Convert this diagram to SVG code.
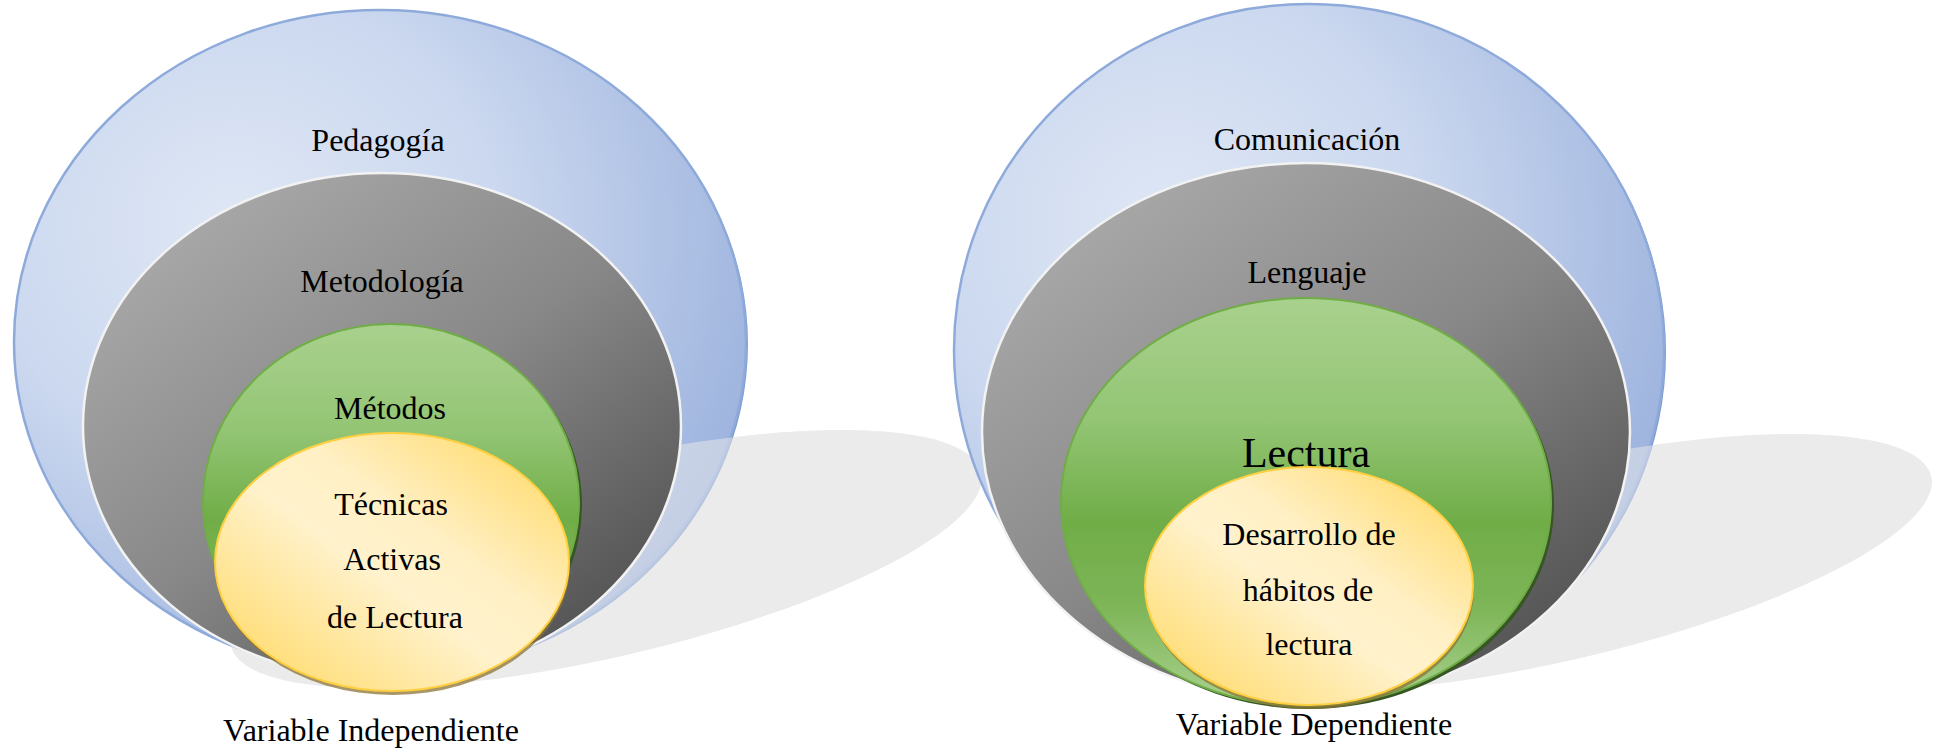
<svg xmlns="http://www.w3.org/2000/svg" width="1936" height="750" viewBox="0 0 1936 750">
<defs>
<radialGradient id="gBlue" cx="0.32" cy="0.34" r="0.78" fx="0.3" fy="0.32">
<stop offset="0" stop-color="#dfe7f5"/>
<stop offset="0.45" stop-color="#cbd8ef"/>
<stop offset="1" stop-color="#98afdc"/>
</radialGradient>
<linearGradient id="gGray" x1="0.15" y1="0.1" x2="0.85" y2="0.9">
<stop offset="0" stop-color="#a8a8a8"/>
<stop offset="0.5" stop-color="#888888"/>
<stop offset="1" stop-color="#545454"/>
</linearGradient>
<linearGradient id="gGreen" x1="0" y1="0" x2="0" y2="1">
<stop offset="0" stop-color="#a9d18e"/>
<stop offset="0.3" stop-color="#93c574"/>
<stop offset="0.55" stop-color="#70ad47"/>
<stop offset="0.75" stop-color="#7db557"/>
<stop offset="1" stop-color="#a9d18e"/>
</linearGradient>
<linearGradient id="gYellow" x1="0.05" y1="0.95" x2="0.95" y2="0.05">
<stop offset="0" stop-color="#ffd966"/>
<stop offset="0.45" stop-color="#fff2cc"/>
<stop offset="0.62" stop-color="#fff0c5"/>
<stop offset="1" stop-color="#ffd966"/>
</linearGradient>
<style>
.shadow{fill:#ebebeb}
.shadowOver{fill:#ebebeb;opacity:0.5}
.blue{fill:url(#gBlue);stroke:#8eaadb;stroke-width:2.5}
.blueEdge{fill:#7f9bd0}
.gray{fill:url(#gGray);stroke:#f2f2f2;stroke-width:2.5}
.green{fill:url(#gGreen);stroke:#70ad47;stroke-width:2}
.greenEdge{fill:#375623}
.yellow{fill:url(#gYellow);stroke:#ffcf3f;stroke-width:2}
.yellowEdge{fill:#8c7436;opacity:0.75}
text{font-family:"Liberation Serif","Times New Roman",serif;font-size:32px;fill:#000;text-anchor:middle}
.big{font-size:42px}
</style>
</defs>

<g id="connectors"></g>

<!-- Left diagram -->
<g id="shadow-left">
<ellipse class="shadow" cx="606" cy="559" rx="385" ry="98" transform="rotate(-13 606 559)"/>
</g>
<g id="node-pedagogia">
<ellipse class="blueEdge" cx="382" cy="344" rx="366" ry="332"/>
<ellipse class="blue" cx="380" cy="342" rx="366" ry="332"/>
<ellipse class="shadowOver" cx="606" cy="559" rx="385" ry="98" transform="rotate(-13 606 559)"/>
<text x="378" y="151">Pedagogía</text>
</g>
<g id="node-metodologia">
<ellipse class="gray" cx="382" cy="426" rx="299" ry="253"/>
<text x="382" y="292">Metodología</text>
</g>
<g id="node-metodos">
<ellipse class="greenEdge" cx="394" cy="505" rx="188" ry="178"/>
<ellipse class="green" cx="391" cy="502" rx="188" ry="178"/>
<text x="390" y="419">Métodos</text>
</g>
<g id="node-tecnicas">
<ellipse class="yellowEdge" cx="393" cy="566" rx="177" ry="129"/>
<ellipse class="yellow" cx="392" cy="562" rx="177" ry="129"/>
<text x="391" y="515">Técnicas</text>
<text x="392" y="570">Activas</text>
<text x="395" y="628">de Lectura</text>
</g>
<g id="label-left">
<text x="371" y="741">Variable Independiente</text>
</g>

<!-- Right diagram -->
<g id="shadow-right">
<ellipse class="shadow" cx="1556" cy="563" rx="385" ry="98" transform="rotate(-13 1556 563)"/>
</g>
<g id="node-comunicacion">
<ellipse class="blueEdge" cx="1311" cy="352" rx="355" ry="346"/>
<ellipse class="blue" cx="1309" cy="350" rx="355" ry="346"/>
<ellipse class="shadowOver" cx="1556" cy="563" rx="385" ry="98" transform="rotate(-13 1556 563)"/>
<text x="1307" y="150">Comunicación</text>
</g>
<g id="node-lenguaje">
<ellipse class="gray" cx="1306" cy="432" rx="324" ry="269"/>
<text x="1307" y="283">Lenguaje</text>
</g>
<g id="node-lectura">
<ellipse class="greenEdge" cx="1309" cy="505" rx="245" ry="204"/>
<ellipse class="green" cx="1306" cy="502" rx="245" ry="204"/>
<text class="big" x="1306" y="467">Lectura</text>
</g>
<g id="node-desarrollo">
<ellipse class="yellowEdge" cx="1310" cy="590" rx="164" ry="119"/>
<ellipse class="yellow" cx="1309" cy="586" rx="164" ry="119"/>
<text x="1309" y="545">Desarrollo de</text>
<text x="1308" y="601">hábitos de</text>
<text x="1309" y="655">lectura</text>
</g>
<g id="label-right">
<text x="1314" y="735">Variable Dependiente</text>
</g>
</svg>
